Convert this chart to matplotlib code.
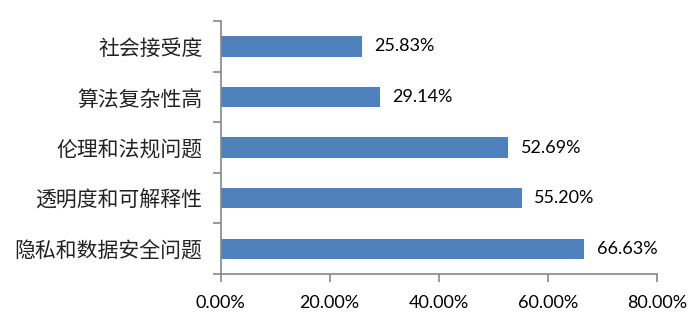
import matplotlib
matplotlib.use("Agg")
import matplotlib.pyplot as plt
from matplotlib.ticker import FixedLocator

categories = ["隐私和数据安全问题", "透明度和可解释性", "伦理和法规问题", "算法复杂性高", "社会接受度"]
values = [66.63, 55.20, 52.69, 29.14, 25.83]
xticks = [0, 20, 40, 60, 80]

cjk = ["Noto Sans CJK SC", "DejaVu Sans"]
num_font = ["Lato", "DejaVu Sans"]
axis_grey = "#868686"
bar_blue = "#4F81BD"

fig = plt.figure(figsize=(7, 3.2), dpi=100)
ax = fig.add_axes([0.315, 0.144, 0.624, 0.79])

pos = list(range(len(categories)))
ax.barh(pos, values, height=0.4, color=bar_blue)

for y, v in zip(pos, values):
    ax.annotate(f"{v:.2f}%", (v, y), xytext=(9, 0), textcoords="offset points",
                va="center", ha="left", fontsize=13, family=num_font, color="#000000")

ax.set_xlim(0, 80)
ax.set_ylim(-0.5, len(categories) - 0.5)
ax.set_xticks(xticks)
ax.set_xticklabels([f"{t:.2f}%" for t in xticks], family=num_font, fontsize=13)
ax.set_yticks(pos)
ax.set_yticklabels(categories, family=cjk, fontsize=15, color="#222222")
ax.yaxis.set_major_locator(FixedLocator(pos))
ax.set_yticks([p - 0.5 for p in pos] + [len(categories) - 0.5], minor=True)

ax.tick_params(axis="y", which="major", length=0, pad=13)
ax.tick_params(axis="y", which="minor", length=6, color=axis_grey, width=1.2)
ax.tick_params(axis="x", length=6, color=axis_grey, width=1.2, pad=9)

for side in ("top", "right"):
    ax.spines[side].set_visible(False)
for side in ("left", "bottom"):
    ax.spines[side].set_color(axis_grey)
    ax.spines[side].set_linewidth(1.2)

fig.savefig("out.png", dpi=100)
